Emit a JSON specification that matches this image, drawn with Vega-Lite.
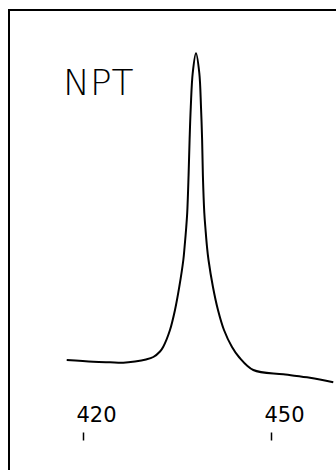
{
  "$schema": "https://vega.github.io/schema/vega-lite/v6.json",
  "width": 340,
  "height": 470,
  "autosize": "none",
  "padding": {"left": 9, "top": 10, "right": 0, "bottom": 0},
  "background": "white",
  "config": {"view": {"stroke": "black", "strokeWidth": 2}},
  "data": {"values": [
    {"wavelength": 417.40, "intensity": 80},
    {"wavelength": 421.64, "intensity": 78.3},
    {"wavelength": 424.31, "intensity": 77.7},
    {"wavelength": 426.43, "intensity": 77.3},
    {"wavelength": 428.30, "intensity": 78.5},
    {"wavelength": 430.05, "intensity": 80.5},
    {"wavelength": 431.22, "intensity": 83},
    {"wavelength": 432.29, "intensity": 88.5},
    {"wavelength": 432.81, "intensity": 93.3},
    {"wavelength": 433.88, "intensity": 110},
    {"wavelength": 434.68, "intensity": 130},
    {"wavelength": 435.37, "intensity": 153.3},
    {"wavelength": 436.01, "intensity": 180},
    {"wavelength": 436.21, "intensity": 193},
    {"wavelength": 436.44, "intensity": 210},
    {"wavelength": 436.63, "intensity": 227},
    {"wavelength": 436.85, "intensity": 265},
    {"wavelength": 437.01, "intensity": 300},
    {"wavelength": 437.20, "intensity": 333},
    {"wavelength": 437.51, "intensity": 367},
    {"wavelength": 438.03, "intensity": 386.7},
    {"wavelength": 438.56, "intensity": 367},
    {"wavelength": 438.83, "intensity": 333},
    {"wavelength": 439.01, "intensity": 300},
    {"wavelength": 439.13, "intensity": 265},
    {"wavelength": 439.36, "intensity": 227},
    {"wavelength": 439.56, "intensity": 210},
    {"wavelength": 439.79, "intensity": 193},
    {"wavelength": 440.03, "intensity": 180},
    {"wavelength": 440.74, "intensity": 153},
    {"wavelength": 441.54, "intensity": 130},
    {"wavelength": 442.50, "intensity": 110},
    {"wavelength": 443.78, "intensity": 93},
    {"wavelength": 444.89, "intensity": 83},
    {"wavelength": 447.18, "intensity": 70},
    {"wavelength": 451.96, "intensity": 65.7},
    {"wavelength": 456.22, "intensity": 62.3},
    {"wavelength": 459.94, "intensity": 57.7}
  ]},
  "layer": [
    {
      "mark": {"type": "line", "color": "black", "strokeWidth": 2, "interpolate": "catmull-rom", "clip": true},
      "encoding": {
        "x": {
          "field": "wavelength", "type": "quantitative",
          "scale": {"domain": [408.19, 462.45], "nice": false, "zero": false},
          "axis": {
            "orient": "top", "offset": -430, "values": [420, 450],
            "domain": false, "grid": false, "labelFlush": false,
            "tickColor": "black", "tickSize": 8, "tickWidth": 1.5,
            "labelFont": "DejaVu Sans", "labelFontSize": 21, "labelColor": "black",
            "labelAlign": "center", "labelOffset": 13, "labelPadding": 7,
            "title": null
          }
        },
        "y": {
          "field": "intensity", "type": "quantitative",
          "scale": {"domain": [-40, 430], "nice": false, "zero": false},
          "axis": null
        }
      }
    },
    {
      "data": {"values": [{"label": "NPT"}]},
      "mark": {"type": "text", "font": "DejaVu Sans", "fontSize": 36, "fontWeight": 200, "align": "left", "baseline": "alphabetic", "color": "black"},
      "encoding": {
        "text": {"field": "label"},
        "x": {"datum": 416.8},
        "y": {"datum": 345}
      }
    }
  ]
}
